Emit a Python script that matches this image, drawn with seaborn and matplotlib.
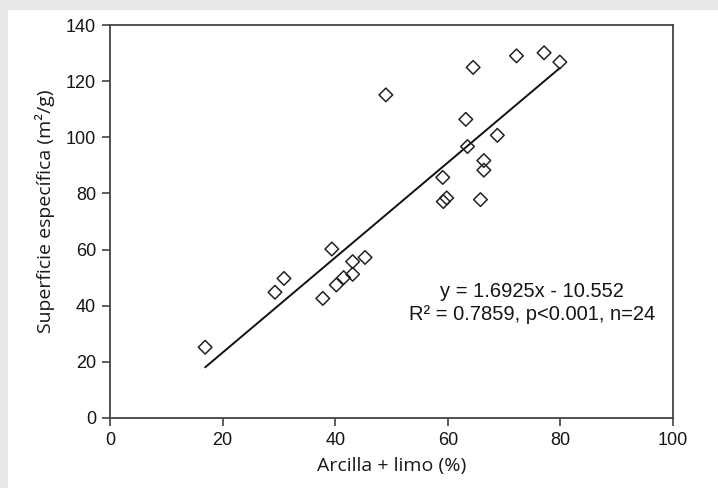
import matplotlib
matplotlib.use('Agg')
import matplotlib.pyplot as plt
import seaborn as sns
import pandas as pd
from matplotlib.patches import Rectangle

# arcilla + limo (%) y superficie especifica (m2/g)
arcilla_limo = [49.0, 64.5, 72.2, 77.1, 79.9, 63.2, 68.8, 63.5, 66.4, 66.4, 59.1, 59.2,
                59.8, 65.8, 16.9, 29.3, 30.9, 39.4, 37.8, 40.2, 41.5, 43.1, 43.1, 45.3]
superficie = [115.1, 124.9, 129.0, 130.1, 126.8, 106.4, 100.7, 96.7, 91.7, 88.3, 85.7, 77.1,
              78.4, 77.8, 25.2, 44.8, 49.7, 60.2, 42.6, 47.4, 50.0, 51.2, 55.7, 57.2]

# recta de regresion (la del grafico)
pendiente = 1.6925
intercepto = -10.552
ecuacion = 'y = 1.6925x - 10.552'
estadisticos = 'R² = 0.7859, p<0.001, n=24'

df = pd.DataFrame({'x': arcilla_limo, 'y': superficie})
x_linea = [df['x'].min(), df['x'].max()]
y_linea = [pendiente * v + intercepto for v in x_linea]

sns.set_theme(style='ticks')
plt.rcParams['font.family'] = ['Liberation Sans', 'DejaVu Sans']

fig = plt.figure(figsize=(7.18, 4.88), dpi=100)
fig.patch.set_facecolor('#e8e8e8')
# marco blanco sobre fondo gris
fig.add_artist(Rectangle((8 / 718, 0), 1 - 8 / 718, 1 - 10 / 488, transform=fig.transFigure,
                         facecolor='white', edgecolor='none', zorder=-10))
ax = fig.add_axes([110 / 718, 70 / 488, 563 / 718, 393 / 488])
ax.set_facecolor('white')

sns.scatterplot(data=df, x='x', y='y', marker='D', s=48, facecolor='none',
                edgecolor='#222222', linewidth=1.1, ax=ax, zorder=3)
sns.lineplot(x=x_linea, y=y_linea, color='#111111', lw=1.4, ax=ax)

ax.text(75, 45.2, ecuacion, ha='center', va='center', fontsize=14.5, color='#151515')
ax.text(75, 37.0, estadisticos, ha='center', va='center', fontsize=14.5, color='#151515')

ax.set_xlim(0, 100)
ax.set_ylim(0, 140)
ax.set_xticks(range(0, 101, 20))
ax.set_yticks(range(0, 141, 20))
ax.tick_params(direction='out', length=6, width=1.1, color='#333333', labelsize=13,
               labelcolor='#151515', pad=4)
for sp in ax.spines.values():
    sp.set_color('#444444')
    sp.set_linewidth(1.3)

ax.set_xlabel('Arcilla + limo (%)', family=['Open Sans', 'DejaVu Sans'], fontsize=14,
              color='#1a1a1a', labelpad=6)
ax.set_ylabel('Superficie específica (m²/g)', family=['Open Sans', 'DejaVu Sans'], fontsize=14,
              color='#1a1a1a', labelpad=8)
ax.yaxis.label.set_y(0.525)

fig.savefig('out.png', dpi=100, facecolor=fig.get_facecolor())
